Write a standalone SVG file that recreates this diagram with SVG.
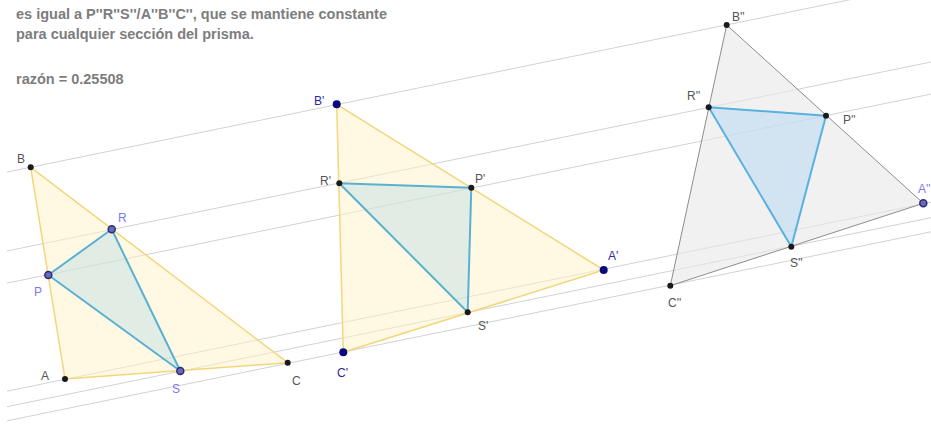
<svg xmlns="http://www.w3.org/2000/svg" width="931" height="424" viewBox="0 0 931 424">
<style>
  .txt { font-family: "Liberation Sans", Arial, sans-serif; font-size: 14.5px; font-weight: bold; fill: #7d7d7d; }
  .lbl { font-family: "Liberation Sans", Arial, sans-serif; font-size: 12px; }
  .gray { fill: #555; }
  .lblue { fill: #7a7af0; }
  .dblue { fill: #2a2aa0; }
  .ln { stroke: #d2d2d2; stroke-width: 1; fill: none; }
  .yel { fill: #fff3c8; fill-opacity: 0.5; stroke: #f3d67c; stroke-width: 1.5; stroke-linejoin: round; }
  .inL { fill: #a8d6e6; fill-opacity: 0.35; stroke: #5ab0d2; stroke-width: 2; stroke-linejoin: round; }
  .grayT { fill: #e8e8e8; fill-opacity: 0.6; stroke: #8c8c8c; stroke-width: 1; stroke-linejoin: round; }
  .inR { fill: #b3d7f2; fill-opacity: 0.5; stroke: #5ab0e0; stroke-width: 2; stroke-linejoin: round; }
  .pk { fill: #1a1a1a; }
  .pb { fill: #6a6ab8; stroke: #2c2c78; stroke-width: 1.5; }
  .pd { fill: #0a0a80; }
</style>

<g id="texto">
  <text class="txt" x="16" y="19">es igual a P''R''S''/A''B''C'', que se mantiene constante</text>
  <text class="txt" x="16" y="39">para cualquier sección del prisma.</text>
  <text class="txt" x="16" y="84">razón = 0.25508</text>
</g>

<g id="connectors">
  <line class="ln" x1="7" y1="172.1" x2="931" y2="-16.9"/>
  <line class="ln" x1="7" y1="251.0" x2="931" y2="62.0"/>
  <line class="ln" x1="7" y1="283.1" x2="931" y2="94.1"/>
  <line class="ln" x1="7" y1="391.2" x2="931" y2="202.2"/>
  <line class="ln" x1="7" y1="406.7" x2="931" y2="217.7"/>
  <line class="ln" x1="7" y1="420.8" x2="931" y2="231.8"/>
</g>

<g id="triangulo-ABC">
  <polygon class="yel" points="30.7,167.3 65,379 287.7,362.7"/>
  <polygon class="inL" points="48.3,275 111.7,229.3 180.3,371"/>
</g>
<g id="triangulo-A1B1C1">
  <polygon class="yel" points="336.7,104.3 603.7,270 343.3,352.3"/>
  <polygon class="inL" points="339.3,183.3 471.3,187.7 467.7,312.3"/>
</g>
<g id="triangulo-A2B2C2">
  <polygon class="grayT" points="726.7,25 923.3,203.3 670.3,285.7"/>
  <polygon class="inR" points="708.7,107.3 826,115.7 791.3,246.7"/>
</g>

<g id="B"><circle class="pk" cx="30.7" cy="167.3" r="3"/><text class="lbl gray" x="17" y="163">B</text></g>
<g id="A"><circle class="pk" cx="65" cy="379" r="3"/><text class="lbl gray" x="41" y="380">A</text></g>
<g id="C"><circle class="pk" cx="287.7" cy="362.7" r="3"/><text class="lbl gray" x="292" y="385">C</text></g>
<g id="R"><circle class="pb" cx="111.7" cy="229.3" r="3.5"/><text class="lbl lblue" x="118" y="222">R</text></g>
<g id="P"><circle class="pb" cx="48.3" cy="275" r="3.5"/><text class="lbl lblue" x="34" y="296">P</text></g>
<g id="S"><circle class="pb" cx="180.3" cy="371" r="3.5"/><text class="lbl lblue" x="172" y="393">S</text></g>

<g id="B1"><circle class="pd" cx="336.7" cy="104.3" r="4"/><text class="lbl dblue" x="314" y="105">B'</text></g>
<g id="A1"><circle class="pd" cx="603.7" cy="270" r="4"/><text class="lbl dblue" x="608" y="260">A'</text></g>
<g id="C1"><circle class="pd" cx="343.3" cy="352.3" r="4"/><text class="lbl dblue" x="337" y="377">C'</text></g>
<g id="R1"><circle class="pk" cx="339.3" cy="183.3" r="3"/><text class="lbl gray" x="320" y="185">R'</text></g>
<g id="P1"><circle class="pk" cx="471.3" cy="187.7" r="3"/><text class="lbl gray" x="475" y="183">P'</text></g>
<g id="S1"><circle class="pk" cx="467.7" cy="312.3" r="3"/><text class="lbl gray" x="478" y="330">S'</text></g>

<g id="B2"><circle class="pk" cx="726.7" cy="25" r="3"/><text class="lbl gray" x="732" y="21">B''</text></g>
<g id="R2"><circle class="pk" cx="708.7" cy="107.3" r="3"/><text class="lbl gray" x="687" y="100">R''</text></g>
<g id="P2"><circle class="pk" cx="826" cy="115.7" r="3"/><text class="lbl gray" x="843" y="124">P''</text></g>
<g id="S2"><circle class="pk" cx="791.3" cy="246.7" r="3"/><text class="lbl gray" x="790" y="267">S''</text></g>
<g id="C2"><circle class="pk" cx="670.3" cy="285.7" r="3"/><text class="lbl gray" x="668" y="307">C''</text></g>
<g id="A2"><circle class="pb" cx="923.3" cy="203.3" r="3.5"/><text class="lbl lblue" x="918" y="193">A''</text></g>
</svg>
